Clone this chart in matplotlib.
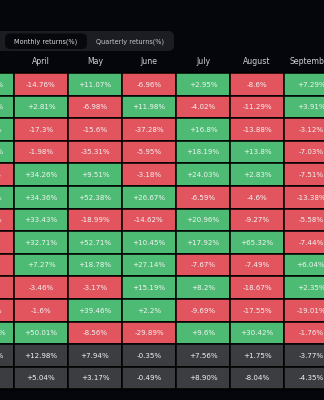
import matplotlib
matplotlib.use("Agg")
import matplotlib.pyplot as plt
from matplotlib.patches import Rectangle, FancyBboxPatch

months = ["March", "April", "May", "June", "July", "August", "September"]
row_names = ["2024", "2023", "2022", "2021", "2020", "2019", "2018", "2017",
             "2016", "2015", "2014", "2013", "Average", "Median"]

march = [16.81, 23.03, 5.39, 30.53, -24.92, 7.05, -32.85, -9.05, -5.35, -4.38, -17.25, 172.76, 13.48, 0.5]
april = [-14.76, 2.81, -17.3, -1.98, 34.26, 34.36, 33.43, 32.71, 7.27, -3.46, -1.6, 50.01, 12.98, 5.04]
may = [11.07, -6.98, -15.6, -35.31, 9.51, 52.38, -18.99, 52.71, 18.78, -3.17, 39.46, -8.56, 7.94, 3.17]
june = [-6.96, 11.98, -37.28, -5.95, -3.18, 26.67, -14.62, 10.45, 27.14, 15.19, 2.2, -29.89, -0.35, -0.49]
july = [2.95, -4.02, 16.8, 18.19, 24.03, -6.59, 20.96, 17.92, -7.67, 8.2, -9.69, 9.6, 7.56, 8.90]
august = [-8.6, -11.29, -13.88, 13.8, 2.83, -4.6, -9.27, 65.32, -7.49, -18.67, -17.55, 30.42, 1.75, -8.04]
september = [7.29, 3.91, -3.12, -7.03, -7.51, -13.38, -5.58, -7.44, 6.04, 2.35, -19.01, -1.76, -3.77, -4.35]

# strings as shown on the site (some keep a trailing zero)
median_july_label = "+8.90%"

columns = [march, april, may, june, july, august, september]

BG = "#05060c"
GREEN = "#4dbb73"
RED = "#e2555e"
GRAY = "#3c3d41"


def fmt(v):
    s = ("%.2f" % v).rstrip("0").rstrip(".")
    if v > 0:
        s = "+" + s
    return s + "%"


fig = plt.figure(figsize=(3.24, 4.0), dpi=100)
fig.patch.set_facecolor(BG)
ax = fig.add_axes([0, 0, 1, 1])
ax.set_facecolor(BG)
ax.set_xlim(0, 324)
ax.set_ylim(400, 0)
ax.axis("off")

# toggle buttons
ax.add_patch(FancyBboxPatch((-20, 31), 194, 20, boxstyle="round,pad=0,rounding_size=6",
                            facecolor="#1c1d22", edgecolor="none"))
ax.add_patch(FancyBboxPatch((5, 33.5), 82, 15.5, boxstyle="round,pad=0,rounding_size=5",
                            facecolor="#07080c", edgecolor="none"))
ax.text(46, 41.5, "Monthly returns(%)", color="#d8d9dd", fontsize=4.7, ha="center", va="center")
ax.text(130, 41.5, "Quarterly returns(%)", color="#c8c9cd", fontsize=4.7, ha="center", va="center")

# table
x0 = -40
col_w = 54
y0 = 73
row_h = 22.6

for j, name in enumerate(months):
    cx = x0 + j * col_w + col_w / 2
    ax.text(cx, 61.5, name, color="#d0d1d5", fontsize=5.6, ha="center", va="center")
    vals = columns[j]
    for i, v in enumerate(vals):
        top = y0 + i * row_h
        if i >= 12:
            fc = GRAY
        else:
            fc = GREEN if v >= 0 else RED
        ax.add_patch(Rectangle((x0 + j * col_w, top), col_w, row_h, facecolor=fc,
                               edgecolor="#000000", linewidth=1.1))
        label = fmt(v)
        if months[j] == "July" and row_names[i] == "Median":
            label = median_july_label
        ax.text(cx, top + row_h / 2 + 0.3, label, color="#f4f4f4", fontsize=5.1,
                ha="center", va="center")

fig.savefig("out.png", dpi=100, facecolor=BG)
